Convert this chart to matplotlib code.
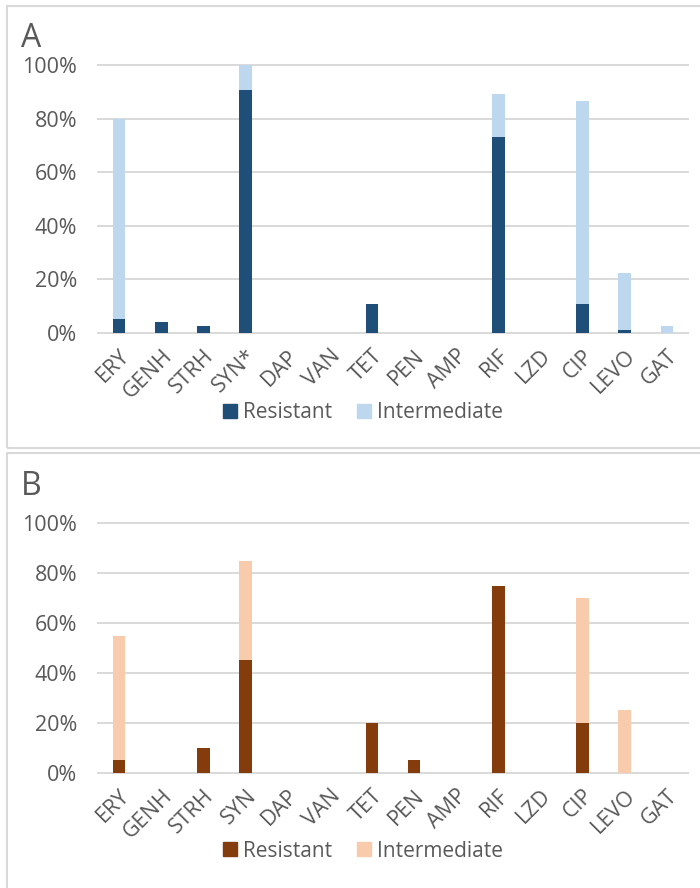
import numpy as np
import matplotlib
matplotlib.use("Agg")
import matplotlib.pyplot as plt
from matplotlib.patches import Rectangle, Patch
from matplotlib.ticker import PercentFormatter

plt.rcParams['font.family'] = ['Open Sans', 'DejaVu Sans']

drugs_a = ["ERY", "GENH", "STRH", "SYN*", "DAP", "VAN", "TET", "PEN", "AMP",
           "RIF", "LZD", "CIP", "LEVO", "GAT"]
drugs_b = ["ERY", "GENH", "STRH", "SYN", "DAP", "VAN", "TET", "PEN", "AMP",
           "RIF", "LZD", "CIP", "LEVO", "GAT"]

# percentages (0-1)
res_a = [0.052, 0.04, 0.025, 0.906, 0, 0, 0.107, 0, 0, 0.732, 0, 0.107, 0.013, 0]
int_a = [0.748, 0, 0, 0.094, 0, 0, 0, 0, 0, 0.16, 0, 0.76, 0.211, 0.025]

res_b = [0.05, 0, 0.10, 0.45, 0, 0, 0.20, 0.05, 0, 0.75, 0, 0.20, 0, 0]
int_b = [0.50, 0, 0, 0.40, 0, 0, 0, 0, 0, 0, 0, 0.50, 0.25, 0]

W, H = 700, 888
fig = plt.figure(figsize=(W / 100, H / 100), dpi=100)

txt = "#595959"
grid = "#D9D9D9"

# panel frames
fig.patches.append(Rectangle((7 / W, 1 - 448 / H), 700 / W, 442 / H,
                             transform=fig.transFigure, fill=False,
                             edgecolor="#D9D9D9", lw=1.5))
fig.patches.append(Rectangle((7 / W, 1 - 900 / H), 700 / W, 447 / H,
                             transform=fig.transFigure, fill=False,
                             edgecolor="#D9D9D9", lw=1.5))


def panel(top, bottom, labels, res, inter, c_res, c_int, letter, letter_y, leg_y):
    ax = fig.add_axes([98 / W, 1 - bottom / H, 590 / W, (bottom - top) / H])
    x = np.arange(len(labels))
    ax.bar(x, res, width=0.3, color=c_res, zorder=3, label="Resistant")
    ax.bar(x, inter, width=0.3, bottom=res, color=c_int, zorder=3, label="Intermediate")
    ax.set_xlim(-0.5, len(labels) - 0.5)
    ax.set_ylim(0, 1)
    ax.set_yticks(np.arange(0, 1.01, 0.2))
    ax.yaxis.set_major_formatter(PercentFormatter(1.0, decimals=0))
    ax.yaxis.grid(True, color=grid, lw=1.4, zorder=0)
    for gl in ax.get_ygridlines():
        gl.set_clip_on(False)
    ax.set_axisbelow(True)
    for s in ax.spines.values():
        s.set_visible(False)
    ax.set_xticks(x)
    ax.set_xticklabels(labels, rotation=45, ha="right", rotation_mode="anchor")
    ax.tick_params(axis="both", length=0, colors=txt, labelsize=15.5)
    ax.tick_params(axis="y", pad=15)
    ax.tick_params(axis="x", pad=9)
    fig.text(21 / W, 1 - letter_y / H, letter, fontsize=23, color=txt, va="baseline")
    handles = [Patch(color=c_res, label="Resistant"), Patch(color=c_int, label="Intermediate")]
    fig.legend(handles=handles, loc="center", bbox_to_anchor=(363 / W, 1 - leg_y / H),
               ncol=2, frameon=False, fontsize=15, labelcolor=txt,
               handlelength=0.65, handleheight=0.65, handletextpad=0.3,
               columnspacing=1.2)
    return ax


panel(65, 333, drugs_a, res_a, int_a, "#1F4E79", "#BDD7EE", "A", 47, 413)
panel(523.3, 772.7, drugs_b, res_b, int_b, "#843C0C", "#F8CBAD", "B", 495, 851)

fig.savefig("out.png", dpi=100)
